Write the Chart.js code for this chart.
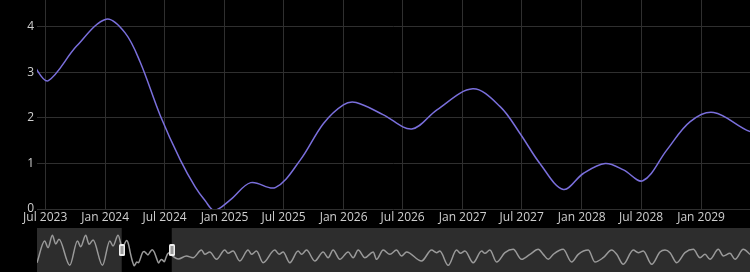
<!DOCTYPE html>
<html>
<head>
<meta charset="utf-8">
<script src="https://cdn.jsdelivr.net/npm/chart.js@4.4.1/dist/chart.umd.min.js"></script>
<style>
  html, body { margin: 0; padding: 0; background: #000; }
  #wrap { position: relative; width: 750px; height: 272px; overflow: hidden; background: #000; }
  #main { position: absolute; left: 0; top: 0; }
  #nav { position: absolute; left: 0; top: 228px; }
</style>
</head>
<body>
<div id="wrap">
  <canvas id="main" width="750" height="228"></canvas>
  <canvas id="nav" width="750" height="44"></canvas>
</div>
<script>
// decimal years and values of the series
const years = [
  2013.29, 2014.21, 2014.61, 2015.13, 2015.53, 2015.92, 2017.21, 2018.13, 2018.52, 2019.12,
  2019.52, 2020.00, 2021.12, 2022.00, 2022.39, 2022.99,
  2023.431, 2023.523, 2023.760, 2024.008, 2024.167, 2024.293, 2024.462, 2024.629, 2024.755, 2024.838,
  2024.914, 2025.048, 2025.220, 2025.426, 2025.637, 2025.831, 2025.998, 2026.105, 2026.335, 2026.573,
  2026.784, 2027.085, 2027.315, 2027.482, 2027.649, 2027.846, 2028.013, 2028.197, 2028.350, 2028.512,
  2028.714, 2028.909, 2029.106, 2029.413,
  2030.20, 2031.17, 2031.97, 2032.97, 2033.37, 2033.96, 2034.77, 2035.76, 2036.15, 2036.75,
  2037.55, 2038.55, 2038.96, 2039.55, 2040.34, 2041.74, 2042.26, 2042.74, 2043.54, 2044.53,
  2044.94, 2045.54, 2046.53, 2047.53, 2048.12, 2048.72, 2049.52, 2050.52, 2051.12, 2051.72,
  2052.52, 2053.51, 2053.92, 2054.71, 2055.51, 2056.31, 2056.91, 2057.51, 2059.30, 2060.50,
  2061.10, 2061.49, 2062.49, 2063.49, 2063.97, 2064.49, 2065.48, 2066.49, 2066.88, 2067.48,
  2068.28, 2069.28, 2070.27, 2071.27, 2072.27, 2073.26, 2073.86, 2074.46, 2075.06, 2076.25,
  2077.26, 2078.05, 2079.25, 2080.05, 2081.04, 2082.05, 2082.65, 2083.44, 2084.63, 2085.23,
  2085.83, 2086.84, 2087.83, 2088.43, 2089.03, 2089.83, 2090.82, 2091.82, 2092.62, 2093.22,
  2093.81, 2094.81, 2095.41, 2096.21, 2096.81, 2097.80, 2098.60
];
const values = [
  0.47, 4.08, 2.97, 5.03, 3.58, 4.37, 0.03, 4.08, 3.13, 5.03,
  3.53, 4.25, 0.03, 4.08, 3.25, 5.03,
  3.04, 2.82, 3.58, 4.17, 3.87, 3.23, 2.05, 1.08, 0.48, 0.18,
  -0.03, 0.20, 0.58, 0.47, 1.08, 1.88, 2.29, 2.34, 2.07, 1.76,
  2.18, 2.64, 2.25, 1.66, 1.00, 0.43, 0.78, 1.00, 0.86, 0.62,
  1.30, 1.92, 2.12, 1.70,
  1.10, 1.58, 1.30, 2.58, 1.86, 2.25, 1.03, 2.58, 2.03, 2.42,
  0.75, 2.58, 1.86, 2.42, 0.47, 2.58, 1.86, 2.25, 0.47, 2.42,
  1.86, 2.58, 0.75, 2.25, 1.30, 2.58, 1.03, 2.25, 1.30, 2.58,
  1.30, 2.25, 1.03, 2.58, 1.86, 2.58, 1.58, 2.25, 0.75, 2.58,
  2.14, 2.42, 0.03, 2.58, 2.03, 2.42, 0.47, 2.42, 2.03, 2.58,
  0.58, 2.14, 2.69, 1.03, 1.86, 2.69, 1.86, 1.03, 1.86, 2.69,
  0.58, 1.86, 2.58, 0.58, 1.30, 2.58, 1.86, 0.20, 2.58, 2.14,
  2.42, 0.20, 2.25, 2.58, 2.14, 0.47, 2.14, 2.69, 1.30, 1.86,
  1.03, 2.69, 1.58, 2.03, 1.03, 2.69, 1.86
];

// visible window of the main chart
const viewStart = '2023-06-06';
const viewEnd = '2029-05-31';

const xTickLabels = ['Jul 2023', 'Jan 2024', 'Jul 2024', 'Jan 2025', 'Jul 2025', 'Jan 2026',
  'Jul 2026', 'Jan 2027', 'Jul 2027', 'Jan 2028', 'Jul 2028', 'Jan 2029'];
const yTicks = [0, 1, 2, 3, 4];

const lineColor = '#7a6fdc';
const navLineColor = '#9a9a9a';
const gridColor = '#2f2f2f';
const labelColor = '#cfcfcf';
const fontFamily = '"Open Sans", "Noto Sans", sans-serif';

function yearToTime(y) {
  const yr = Math.floor(y);
  const a = Date.UTC(yr, 0, 1), b = Date.UTC(yr + 1, 0, 1);
  return a + (y - yr) * (b - a);
}
function dateToTime(s) {
  const [y, m, d] = s.split('-').map(Number);
  return Date.UTC(y, m - 1, d);
}
const months = { Jan: 0, Jul: 6 };
function labelToTime(l) {
  const [mon, yr] = l.split(' ');
  return Date.UTC(Number(yr), months[mon], 1);
}

const points = years.map((y, i) => ({ x: yearToTime(y), y: values[i] }));
const tMin = dateToTime(viewStart);
const tMax = dateToTime(viewEnd);

new Chart(document.getElementById('main'), {
  type: 'line',
  data: {
    datasets: [{
      data: points,
      borderColor: lineColor,
      borderWidth: 1.5,
      pointRadius: 0,
      tension: 0.35,
      fill: false
    }]
  },
  options: {
    responsive: false,
    animation: false,
    layout: { padding: 0 },
    plugins: { legend: { display: false }, tooltip: { enabled: false } },
    scales: {
      x: {
        type: 'linear',
        min: tMin,
        max: tMax,
        afterBuildTicks: s => { s.ticks = xTickLabels.map(l => ({ value: labelToTime(l) })); },
        afterFit: s => { s.height = 19; s.paddingLeft = 0; s.paddingRight = 0; },
        ticks: {
          callback: (v, i) => xTickLabels[i],
          color: labelColor,
          font: { family: fontFamily, size: 12 },
          padding: 1,
          maxRotation: 0,
          autoSkip: false
        },
        grid: { color: gridColor, drawTicks: false },
        border: { display: false }
      },
      y: {
        min: 0,
        max: 4.593,
        afterBuildTicks: s => { s.ticks = yTicks.map(v => ({ value: v })); },
        afterFit: s => { s.width = 37; s.paddingTop = 0; s.paddingBottom = 0; },
        ticks: {
          color: labelColor,
          font: { family: fontFamily, size: 12 },
          padding: 3
        },
        grid: { color: gridColor, drawTicks: false },
        border: { display: false }
      }
    }
  }
});

// range slider below the chart
const navPlugin = {
  id: 'navMask',
  beforeDatasetsDraw(chart) {
    const { ctx, chartArea: a, scales: { x } } = chart;
    const x0 = x.getPixelForValue(tMin), x1 = x.getPixelForValue(tMax);
    ctx.save();
    ctx.fillStyle = '#2d2d2d';
    ctx.fillRect(a.left, 0, a.right - a.left, chart.height);
    ctx.fillStyle = '#000';
    ctx.fillRect(x0, 0, x1 - x0, chart.height);
    ctx.restore();
  },
  afterDatasetsDraw(chart) {
    const { ctx, scales: { x } } = chart;
    ctx.save();
    [tMin, tMax].forEach(t => {
      const px = Math.round(x.getPixelForValue(t));
      ctx.fillStyle = '#eeeeee';
      ctx.beginPath();
      ctx.roundRect(px - 3, 16, 6, 12, 1.5);
      ctx.fill();
      ctx.fillStyle = '#9a9a9a';
      ctx.fillRect(px - 1.5, 18, 3, 8);
    });
    ctx.restore();
  }
};

new Chart(document.getElementById('nav'), {
  type: 'line',
  data: {
    datasets: [{
      data: points,
      borderColor: navLineColor,
      borderWidth: 1.5,
      pointRadius: 0,
      cubicInterpolationMode: 'monotone',
      fill: false
    }]
  },
  options: {
    responsive: false,
    animation: false,
    layout: { padding: { left: 37, top: 1, right: 0, bottom: 0 } },
    plugins: { legend: { display: false }, tooltip: { enabled: false } },
    scales: {
      x: { type: 'linear', display: false, min: points[0].x, max: points[points.length - 1].x },
      y: { display: false, min: -1.08, max: 6.08 }
    }
  },
  plugins: [navPlugin]
});
</script>
</body>
</html>
